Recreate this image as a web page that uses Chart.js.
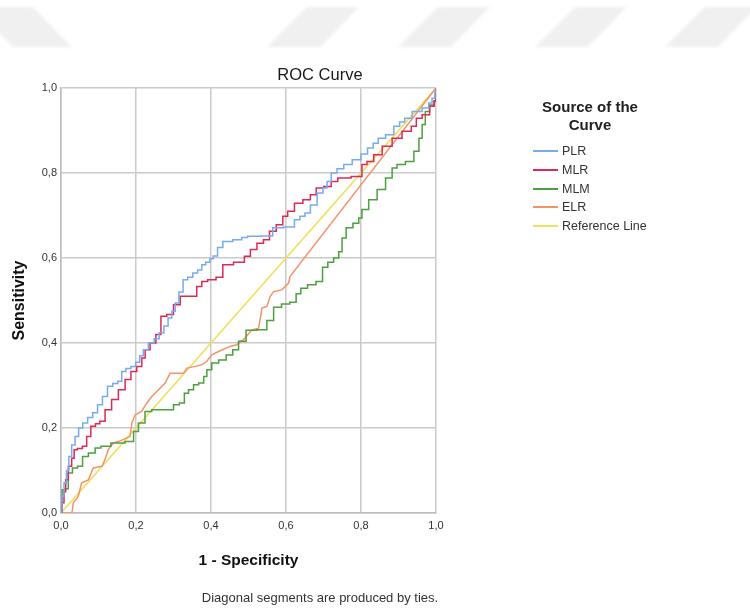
<!DOCTYPE html>
<html>
<head>
<meta charset="utf-8">
<script src="https://cdn.jsdelivr.net/npm/chart.js@4.4.1/dist/chart.umd.min.js"></script>
<style>
  body { margin: 0; background: #fff; }
  #wrap { position: relative; width: 750px; height: 609px; overflow: hidden; font-family: "Liberation Sans", Arial, sans-serif; color: #222; }
  #roc { position: absolute; left: 0; top: 0; }
  .txt { position: absolute; white-space: nowrap; }
  #title { left: 320px; top: 74px; transform: translate(-50%, -50%); font-size: 16.5px; color: #1a1a1a; }
  #legTitle { left: 590px; top: 98px; transform: translateX(-50%); font-size: 15px; font-weight: bold; text-align: center; line-height: 18px; }
  .leg { position: absolute; left: 533px; font-size: 12.5px; color: #333; display: flex; align-items: center; }
  .leg span.sw { display: inline-block; width: 25px; height: 2px; margin-right: 4px; }
  #foot { left: 320px; top: 597px; transform: translate(-50%, -50%); font-size: 13px; color: #333; }
</style>
</head>
<body>
<div id="wrap">
  <canvas id="roc" width="750" height="609"></canvas>
  <div class="txt" id="title">ROC Curve</div>
  <div class="txt" id="legTitle">Source of the<br>Curve</div>
  <div id="legend"></div>
  <div class="txt" id="foot">Diagonal segments are produced by ties.</div>
</div>
<script>
// ROC curves (1 - specificity, sensitivity)
const plrFpr = [0,.005,.011,.018,.024,.033,.042,.052,.064,.078,.091,.104,.117,.131,.145,.158,.166,.18,.193,.205,.215,.224,.242,.255,.269,.28,.291,.30,.309,.32,.331,.345,.358,.371,.38,.392,.402,.41,.425,.438,.478,.486,.509,.558,.571,.616,.629,.645,.656,.674,.692,.705,.714,.727,.745,.763,.79,.81,.825,.84,.852,.879,.896,.91,.923,.95,.976,.985,.994,1,1];
const plrTpr = [0,.04,.071,.10,.133,.16,.18,.20,.212,.225,.236,.255,.274,.298,.305,.31,.333,.34,.345,.355,.37,.384,.40,.41,.424,.44,.459,.475,.494,.52,.549,.555,.565,.572,.584,.59,.598,.605,.625,.639,.643,.648,.651,.652,.671,.673,.69,.698,.706,.725,.753,.765,.78,.80,.81,.82,.831,.845,.859,.87,.882,.89,.91,.92,.929,.945,.953,.965,.976,.99,1];

const mlrFpr = [0,.006,.01,.015,.024,.033,.037,.05,.064,.073,.086,.098,.109,.126,.144,.162,.18,.193,.211,.22,.229,.246,.26,.273,.291,.309,.327,.353,.371,.38,.402,.425,.438,.482,.496,.514,.531,.549,.563,.585,.598,.611,.634,.656,.674,.687,.714,.727,.749,.798,.807,.825,.843,.87,.896,.923,.945,.95,.976,.99,1,1];
const mlrTpr = [0,.024,.05,.078,.11,.129,.149,.152,.157,.18,.204,.21,.216,.243,.267,.29,.314,.333,.345,.365,.384,.40,.42,.463,.467,.49,.51,.51,.533,.545,.549,.555,.584,.59,.604,.62,.635,.643,.663,.678,.698,.71,.729,.737,.749,.765,.768,.78,.788,.792,.82,.827,.843,.863,.882,.898,.91,.929,.937,.957,.97,1];

const mlmFpr = [0,.006,.015,.024,.037,.051,.064,.082,.10,.113,.153,.189,.198,.215,.233,.251,.296,.304,.327,.331,.349,.358,.376,.385,.393,.411,.43,.451,.465,.482,.505,.54,.558,.576,.60,.62,.634,.645,.67,.69,.705,.718,.736,.745,.754,.767,.79,.798,.807,.834,.852,.879,.887,.905,.932,.95,.959,.967,.976,.99,1,1];
const mlmTpr = [0,.055,.057,.094,.106,.11,.133,.141,.153,.157,.165,.168,.192,.212,.239,.243,.243,.255,.259,.282,.29,.302,.306,.321,.337,.353,.36,.372,.384,.404,.43,.431,.453,.484,.492,.496,.516,.529,.537,.545,.578,.59,.60,.615,.647,.671,.682,.694,.714,.737,.761,.788,.812,.82,.827,.851,.882,.914,.945,.96,.968,1];

const elrFpr = [0,.029,.033,.046,.055,.073,.086,.109,.117,.126,.14,.153,.184,.189,.198,.215,.229,.242,.26,.278,.291,.327,.336,.358,.376,.389,.402,.42,.451,.469,.487,.509,.527,.536,.549,.558,.567,.589,.607,.611,1];
const elrTpr = [0,0,.024,.039,.071,.078,.106,.11,.125,.149,.165,.168,.18,.212,.231,.239,.259,.274,.29,.306,.329,.329,.341,.345,.349,.357,.372,.38,.392,.396,.408,.431,.435,.482,.486,.51,.521,.525,.541,.557,1];

const refFpr = [0, 1];
const refTpr = [0, 1];

const seriesNames = ['PLR', 'MLR', 'MLM', 'ELR', 'Reference Line'];
const seriesColors = ['#78aaf0', '#dc2a55', '#4d9f3f', '#f6926a', '#ede05a'];
// SPSS draws the model curves as staircases; ELR has a long tie diagonal so it stays straight
const seriesStepped = ['middle', 'middle', 'middle', false, false];
const axisTicks = [0, 0.2, 0.4, 0.6, 0.8, 1.0];

function pts(xs, ys){ return xs.map((x, i) => ({ x, y: ys[i] })); }

const allData = [pts(plrFpr, plrTpr), pts(mlrFpr, mlrTpr), pts(mlmFpr, mlmTpr), pts(elrFpr, elrTpr), pts(refFpr, refTpr)];

// light grey slanted bands along the top edge of the page
const bands = {
  id: 'bands',
  beforeDraw(chart){
    const ctx = chart.ctx;
    ctx.save();
    ctx.fillStyle = '#f0f0f0';
    ctx.filter = 'blur(1.5px)';
    ctx.beginPath();
    ctx.moveTo(-27, 7); ctx.lineTo(33, 7); ctx.lineTo(72, 47); ctx.lineTo(13, 47); ctx.closePath();
    ctx.fill();
    for(const bl of [267, 398, 535, 665]){
      ctx.beginPath();
      ctx.moveTo(bl, 47); ctx.lineTo(bl + 53, 47); ctx.lineTo(bl + 92, 7); ctx.lineTo(bl + 40, 7); ctx.closePath();
      ctx.fill();
    }
    ctx.restore();
  }
};

const fmt = v => v.toFixed(1).replace('.', ',');
const gridCol = '#cacaca';

new Chart(document.getElementById('roc'), {
  type: 'line',
  data: {
    datasets: allData.map((d, i) => ({
      label: seriesNames[i],
      data: d,
      borderColor: seriesColors[i],
      borderWidth: 1.5,
      pointRadius: 0,
      fill: false,
      tension: 0,
      stepped: seriesStepped[i],
      order: i
    }))
  },
  options: {
    responsive: false,
    animation: false,
    events: [],
    layout: { padding: { top: 88, right: 314, left: 0, bottom: 0 } },
    plugins: { legend: { display: false }, tooltip: { enabled: false } },
    scales: {
      x: {
        type: 'linear', min: 0, max: 1,
        afterFit: s => { s.height = 96; },
        afterBuildTicks: s => { s.ticks = axisTicks.map(v => ({ value: v })); },
        grid: { color: gridCol, lineWidth: 1.5, drawTicks: false },
        border: { color: '#bdbdbd', width: 1.5 },
        ticks: { padding: 6, color: '#333', font: { family: 'Liberation Sans', size: 11 }, callback: v => fmt(v), maxRotation: 0 },
        title: { display: true, text: '1 - Specificity', color: '#111', font: { family: 'Liberation Sans', size: 15.5, weight: 'bold' }, padding: { top: 0, bottom: 39 } }
      },
      y: {
        type: 'linear', min: 0, max: 1,
        afterFit: s => { s.width = 61; },
        afterBuildTicks: s => { s.ticks = axisTicks.map(v => ({ value: v })); },
        grid: { color: gridCol, lineWidth: 1.5, drawTicks: false },
        border: { color: '#bdbdbd', width: 1.5 },
        ticks: { padding: 4, color: '#333', font: { family: 'Liberation Sans', size: 11 }, callback: v => fmt(v) },
        title: { display: true, text: 'Sensitivity', color: '#111', font: { family: 'Liberation Sans', size: 16, weight: 'bold' }, padding: { top: 10, bottom: 0 } }
      }
    }
  },
  plugins: [bands]
});

// legend on the right
const leg = document.getElementById('legend');
const rowTop = [152, 170.8, 189.6, 208.4, 227.2];
seriesNames.forEach((n, i) => {
  const row = document.createElement('div');
  row.className = 'leg';
  row.style.top = (rowTop[i] - 8) + 'px';
  row.innerHTML = `<span class="sw" style="background:${seriesColors[i]}"></span><span>${n}</span>`;
  leg.appendChild(row);
});
</script>
</body>
</html>
